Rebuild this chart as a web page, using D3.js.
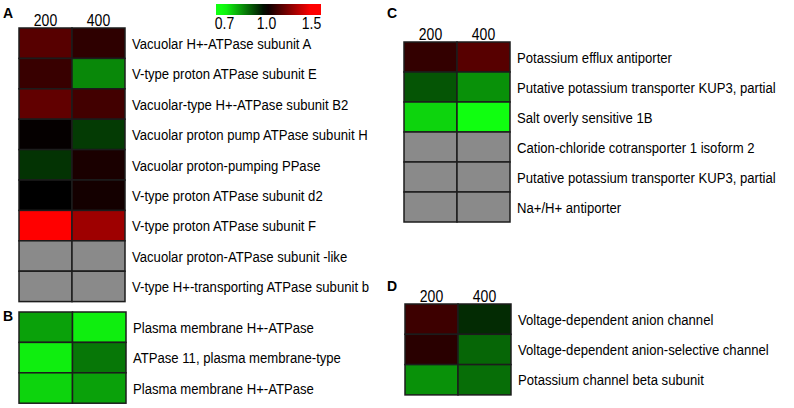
<!DOCTYPE html>
<html>
<head>
<meta charset="utf-8">
<script src="https://cdn.jsdelivr.net/npm/d3@7"></script>
<style>
  body { margin: 0; background: #fff; }
  svg { display: block; font-family: "Liberation Sans", Arial, sans-serif; }
  .tick text { fill: #000; }
</style>
</head>
<body>
<script>
// Step 1: data (fold change vs control, null = not detected)
var concentrations = ["200", "400"];

var genesA = ["Vacuolar H+-ATPase subunit A", "V-type proton ATPase subunit E",
  "Vacuolar-type H+-ATPase subunit B2", "Vacuolar proton pump ATPase subunit H",
  "Vacuolar proton-pumping PPase", "V-type proton ATPase subunit d2",
  "V-type proton ATPase subunit F", "Vacuolar proton-ATPase subunit -like",
  "V-type H+-transporting ATPase subunit b"];
var foldA200 = [1.17, 1.11, 1.19, 1.01, 0.94, 1.00, 1.50, null, null];
var foldA400 = [1.09, 0.84, 1.13, 0.93, 1.05, 1.04, 1.31, null, null];

var genesB = ["Plasma membrane H+-ATPase", "ATPase 11, plasma membrane-type",
  "Plasma membrane H+-ATPase"];
var foldB200 = [0.81, 0.72, 0.75];
var foldB400 = [0.72, 0.86, 0.81];

var genesC = ["Potassium efflux antiporter", "Putative potassium transporter KUP3, partial",
  "Salt overly sensitive 1B", "Cation-chloride cotransporter 1 isoform 2",
  "Putative potassium transporter KUP3, partial", "Na+/H+ antiporter"];
var foldC200 = [1.10, 0.90, 0.75, null, null, null];
var foldC400 = [1.17, 0.83, 0.70, null, null, null];

var genesD = ["Voltage-dependent anion channel", "Voltage-dependent anion-selective channel",
  "Potassium channel beta subunit"];
var foldD200 = [1.12, 1.08, 0.83];
var foldD400 = [0.95, 0.88, 0.87];

var legendTicks = [0.7, 1.0, 1.5];

// Step 2: chart
var svg = d3.select("body").append("svg")
  .attr("width", 794)
  .attr("height", 408);

var color = d3.scaleLinear()
  .domain([0.7, 1.0, 1.5])
  .range(["#10ff10", "#000000", "#ff0000"])
  .clamp(true);

// the figure font is a little condensed
var squeeze = "scale(0.875,1)";

function heatPanel(genes, vals200, vals400, x0, y0, cw, ch, header) {
  var g = svg.append("g");
  var xScale = d3.scaleBand().domain(concentrations).range([x0, x0 + 2 * cw]);
  var yScale = d3.scaleBand().domain(d3.range(genes.length)).range([y0, y0 + genes.length * ch]);

  var cells = [];
  genes.forEach(function(name, i) {
    cells.push({ row: i, col: "200", v: vals200[i] });
    cells.push({ row: i, col: "400", v: vals400[i] });
  });

  g.selectAll("rect")
    .data(cells)
    .enter()
    .append("rect")
    .attr("x", function(d) { return xScale(d.col); })
    .attr("y", function(d) { return yScale(d.row); })
    .attr("width", xScale.bandwidth())
    .attr("height", yScale.bandwidth())
    .attr("fill", function(d) { return d.v == null ? "#8a8a8a" : color(d.v); })
    .attr("stroke", "#1c1c1c")
    .attr("stroke-width", 1.5);

  var yAxis = d3.axisRight(yScale).tickSize(0).tickPadding(8)
    .tickFormat(function(i) { return genes[i]; });
  g.append("g")
    .attr("transform", "translate(" + (x0 + 2 * cw) + ",0)")
    .call(yAxis)
    .call(function(a) { a.select(".domain").remove(); })
    .selectAll("text")
    .style("font-size", "15px")
    .attr("dy", "0.38em")
    .attr("transform", squeeze);

  if (header) {
    var xAxis = d3.axisTop(xScale).tickSize(0).tickPadding(2);
    g.append("g")
      .attr("transform", "translate(0," + y0 + ")")
      .call(xAxis)
      .call(function(a) { a.select(".domain").remove(); })
      .selectAll("text")
      .style("font-size", "16px")
      .attr("transform", squeeze);
  }
}

heatPanel(genesA, foldA200, foldA400, 19, 28, 53, 30.4, true);
heatPanel(genesB, foldB200, foldB400, 19, 312, 53.5, 30.4, false);
heatPanel(genesC, foldC200, foldC400, 404, 42, 53, 30, true);
heatPanel(genesD, foldD200, foldD400, 405, 304, 53, 30.3, true);

// panel letters
svg.selectAll(".panel")
  .data([["A", 3, 18], ["B", 3, 321], ["C", 387, 18], ["D", 387, 291]])
  .enter()
  .append("text")
  .attr("x", function(d) { return d[1]; })
  .attr("y", function(d) { return d[2]; })
  .attr("font-size", "14px")
  .attr("font-weight", "bold")
  .text(function(d) { return d[0]; });

// Step 3: colour legend
var legendScale = d3.scaleLinear().domain([0.7, 1.0, 1.5]).range([224, 266, 311]);
var defs = svg.append("defs");
var grad = defs.append("linearGradient").attr("id", "legendGrad");
var lx0 = 216, lx1 = 321;
grad.selectAll("stop")
  .data(d3.range(0, 1.0001, 0.05))
  .enter()
  .append("stop")
  .attr("offset", function(t) { return t; })
  .attr("stop-color", function(t) {
    return color(legendScale.invert(lx0 + t * (lx1 - lx0)));
  });

svg.append("rect")
  .attr("x", lx0)
  .attr("y", 4)
  .attr("width", lx1 - lx0)
  .attr("height", 11)
  .attr("fill", "url(#legendGrad)");

var legendAxis = d3.axisBottom(legendScale).tickValues(legendTicks).tickSize(0).tickPadding(3)
  .tickFormat(d3.format(".1f"));
svg.append("g")
  .attr("transform", "translate(0,15)")
  .call(legendAxis)
  .call(function(a) { a.select(".domain").remove(); })
  .selectAll("text")
  .style("font-size", "16px")
  .attr("transform", squeeze);
</script>
</body>
</html>
